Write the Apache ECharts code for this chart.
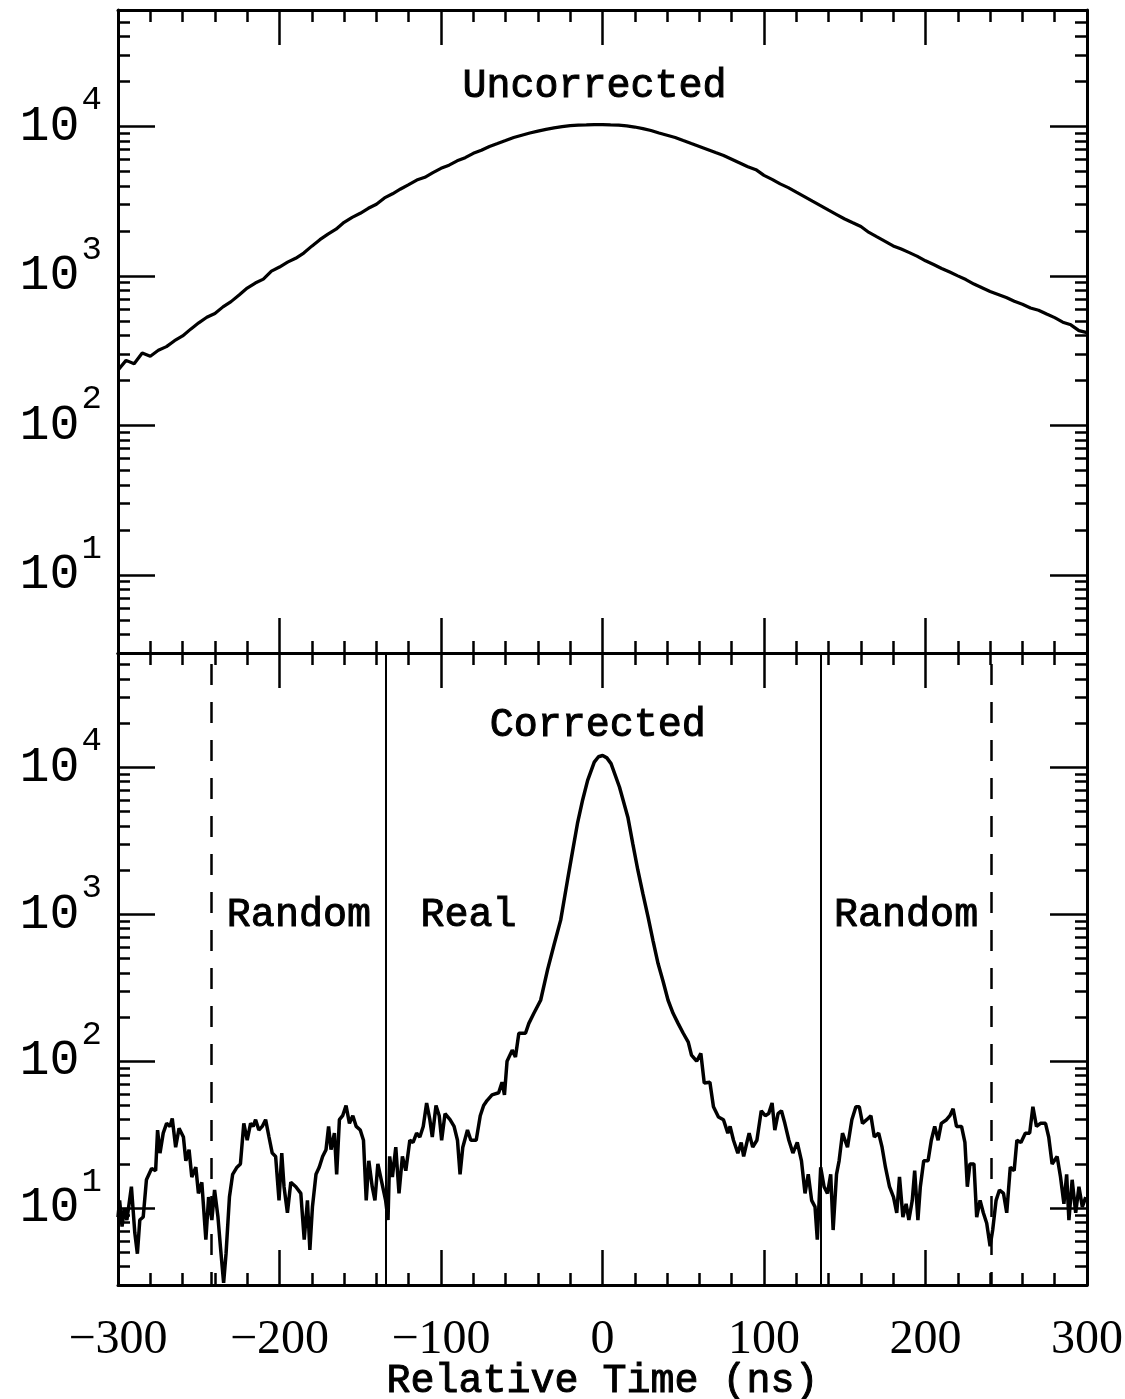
<!DOCTYPE html>
<html><head><meta charset="utf-8">
<script src="https://cdn.jsdelivr.net/npm/echarts@6/dist/echarts.min.js"></script>
<style>html,body{margin:0;padding:0;background:#fff}#c{width:1125px;height:1399px}</style>
</head><body><div id="c"></div>
<script>
// ---- Uncorrected spectrum (top panel) ----
const uncorrTime = [-300,-295,-290,-285,-280,-275,-270,-265,-260,-255,-250,-245,-240,-235,-230,-225,-220,-215,-210,-205,
 -200,-195,-190,-185,-180,-175,-170,-165,-160,-155,-150,-145,-140,-135,-130,-125,-120,-115,-110,-105,
 -100,-95,-90,-85,-80,-75,-70,-65,-60,-55,-50,-45,-40,-35,-30,-25,-20,-15,-10,-5,
 0,5,10,15,20,25,30,35,40,45,50,55,60,65,70,75,80,85,90,95,
 100,105,110,115,120,125,130,135,140,145,150,155,160,165,170,175,180,185,190,195,
 200,205,210,215,220,225,230,235,240,245,250,255,260,265,270,275,280,285,290,295,300];
const uncorrCounts = [234,272,258,305,290,318,336,368,396,440,485,528,560,620,672,745,828,895,950,1075,
 1145,1235,1310,1420,1580,1745,1900,2050,2280,2460,2620,2830,3010,3320,3540,3810,4070,4370,4560,4900,
 5240,5500,5880,6170,6600,6920,7330,7670,8030,8410,8710,9020,9290,9550,9770,9950,10120,10190,10230,10280,
 10280,10230,10190,10070,9890,9660,9380,9020,8710,8410,8030,7670,7330,7000,6680,6380,6030,5690,5370,5130,
 4700,4420,4120,3890,3630,3390,3160,2950,2750,2570,2400,2265,2140,1950,1820,1700,1585,1510,1430,1350,
 1260,1190,1120,1060,1000,944,881,832,785,750,716,676,646,610,589,556,525,490,470,430,417];

// ---- Corrected spectrum (bottom panel) ----
const corrTime = [-300.0,-299.0,-297.5,-296.0,-294.5,-291.7,-289.6,-288.0,-286.5,-284.4,-282.4,-279.2,-276.7,-275.5,-274.0,-272.0,-269.9,-267.8,-266.4,-264.3,
 -262.2,-259.5,-258.0,-256.0,-254.3,-251.8,-250.2,-248.1,-245.6,-243.9,-241.9,-240.2,-238.1,-236.6,-234.6,-233.1,-231.0,-229.0,-226.3,-224.2,
 -222.1,-220.0,-217.9,-216.3,-214.8,-212.8,-210.7,-208.6,-206.5,-204.5,-202.4,-200.3,-198.6,-197.2,-195.1,-193.0,-189.9,-186.8,-184.7,-182.7,
 -181.2,-179.6,-177.4,-175.4,-173.3,-171.2,-169.6,-168.1,-166.0,-164.6,-162.9,-160.9,-158.8,-156.7,-154.6,-152.5,-150.0,-148.0,-146.3,-144.7,
 -142.6,-140.9,-139.1,-137.0,-134.3,-132.8,-131.8,-130.1,-128.0,-126.0,-123.9,-121.8,-119.3,-117.3,-115.1,-113.1,-111.0,-108.9,-106.9,-105.4,
 -103.1,-101.1,-99.6,-97.5,-94.4,-91.9,-89.8,-88.2,-86.5,-83.6,-81.5,-78.2,-75.7,-73.6,-71.5,-68.4,-64.3,-62.2,-60.7,-59.1,
 -55.9,-53.9,-51.8,-47.7,-45.6,-42.5,-38.3,-34.0,-30.0,-25.9,-21.7,-18.5,-15.5,-12.3,-9.2,-5.1,-2.5,0.1,2.7,5.3,
 10.5,15.7,18.8,21.9,25.0,28.2,31.3,34.4,37.5,40.6,43.7,46.8,50.0,53.1,55.1,58.3,60.9,63.0,66.5,68.7,
 71.8,74.9,77.6,79.0,81.1,83.8,85.9,87.4,89.4,90.8,93.0,95.6,98.3,100.8,102.9,105.0,106.7,108.7,110.8,112.9,
 115.4,117.9,120.6,123.2,125.4,127.4,129.5,131.6,133.0,135.1,137.2,139.3,141.3,142.8,144.9,146.5,148.6,151.7,154.4,156.9,
 159.0,161.0,163.6,166.2,168.3,171.0,173.1,175.2,177.7,180.2,182.2,183.9,186.0,188.0,189.7,191.8,193.3,195.3,196.8,198.9,
 201.6,203.6,205.7,207.8,209.8,213.0,215.1,217.1,219.2,222.3,224.4,225.9,227.5,230.0,231.7,233.8,235.8,237.9,240.0,241.6,
 243.7,245.8,248.3,250.3,252.5,254.9,256.6,259.1,261.8,264.5,266.5,268.7,271.2,274.3,276.3,278.4,281.5,283.6,285.7,287.4,
 288.8,290.8,293.0,295.0,297.1,299.2];
const corrCounts = [8.7,11.3,7.5,10,8.3,14,6.8,4.9,8.3,8.7,15.6,18.6,18,34,23.7,32.4,37.8,36,40.8,26,
 35,30.5,21,25,16.3,19,12.6,15,6.1,11.9,8.3,13.3,8.7,5.5,3.1,4.9,11.9,17,19,20,
 37.8,29,37.8,36,40,34,36,40,30.5,23.7,22.5,11.3,23.7,14,9.3,15,14,12.6,6.1,11.3,
 5.2,10.2,17,19,22.5,25,36,25,32.4,17,40,42.6,50,37.8,42.6,36,34,29,11.3,21,
 14,11.3,20,15.6,11.3,8.3,22.5,16.3,26,12.6,22.5,18,29,28,32.4,30.5,36,52,40,30.5,
 50,42.6,29,44,40,36,29,17,26,34,29,29,42.6,50,54,59,61,72,59,100,
 119,107,155,155,181,212,260,420,620,912,1700,2700,4150,6000,8150,10860,11800,12040,11600,10600,
 7350,4580,3000,1995,1380,960,660,462,350,260,212,181,155,135,110,100,113,71,72,49,
 41.7,40,32.4,36,29,23.7,28,22.5,28,32.4,26,29,46,42.6,44,52,34,44,46,37.8,
 29,23.7,28,21,12.6,17,11.3,10.2,6.1,19,14,12.6,17,7.1,17,21,32.4,26,40,49,
 49,37.8,40,42.6,30.5,32.4,26,19,14,11.9,9.3,16.3,8.7,10.7,8.3,11.3,18,8.3,14,21,
 21,29,36,29,37.8,40,42.6,47.5,36,36,28,14,20,20,8.7,11.3,9.3,7.9,5.5,7.1,
 11.3,13.3,12.6,9.3,19,18,29,28,32.4,32.4,49,36,37.8,37.8,30.5,20,22.5,16.3,10.7,17,
 8.3,15.6,9.3,14,10.2,11.9];

// ---- Axis ranges / ticks ----
const timeRange = [-300, 300];
const timeTickStep = 100;
const countRange = [3, 60000];
// ---- Coincidence windows (ns) ----
const realWindow = [-134, 135];
const randomWindow = [-242, 241];
// ---- Annotation texts ----
const panelTitles = ['Uncorrected', 'Corrected'];
const regionNames = ['Random', 'Real', 'Random'];
const xTitle = 'Relative Time (ns)';

const zip = (xs, ys) => xs.map((x, i) => [x, ys[i]]);
const MONO = 'Liberation Mono';
const black = '#000';

function yLabel(v) {
  const l = Math.log10(v), e = Math.round(l);
  if (Math.abs(l - e) > 1e-6) return '';
  return '{b|10}{s|' + e + '}';
}
const yRich = {
  b: { fontFamily: MONO, fontSize: 50, color: black, padding: [18, 0, 18, 0] },
  s: { fontFamily: MONO, fontSize: 34, color: black, verticalAlign: 'top', padding: [0, 0, 0, 2] }
};

function xAxisDef(grid, pos, labels) {
  return {
    type: 'value', gridIndex: grid, position: pos, min: timeRange[0], max: timeRange[1], interval: timeTickStep,
    axisLine: { show: true, onZero: false, lineStyle: { color: black, width: 3 } },
    axisTick: { show: true, inside: true, length: 35, lineStyle: { color: black, width: 2.5 } },
    minorTick: { show: true, splitNumber: 5, length: 12, lineStyle: { color: black, width: 2.5 } },
    splitLine: { show: false },
    axisLabel: labels ? { show: true, margin: 31, fontFamily: 'Liberation Serif', fontSize: 48, color: black,
      formatter: v => (v < 0 ? '\u2212' + (-v) : String(v)) } : { show: false },
    name: labels ? xTitle : '', nameLocation: 'middle', nameGap: 76, nameMoveOverlap: false,
    nameTextStyle: { fontFamily: MONO, fontSize: 40, color: black, textBorderColor: black, textBorderWidth: 1 }
  };
}
function yAxisDef(grid, pos, labels) {
  return {
    type: 'log', logBase: 10, gridIndex: grid, position: pos, min: countRange[0], max: countRange[1],
    axisLine: { show: true, onZero: false, lineStyle: { color: black, width: 3 } },
    axisTick: { show: true, inside: true, length: 37, lineStyle: { color: black, width: 2.5 } },
    minorTick: { show: true, splitNumber: 9, length: 12, lineStyle: { color: black, width: 2.5 } },
    splitLine: { show: false }, minorSplitLine: { show: false },
    axisLabel: labels ? { show: true, margin: 16, formatter: yLabel, rich: yRich } : { show: false }
  };
}

const textLabel = { show: true, fontFamily: MONO, fontSize: 40, color: black, textBorderColor: black, textBorderWidth: 1 };

const option = {
  animation: false,
  backgroundColor: '#fff',
  grid: [
    { left: 118, right: 38, top: 10, height: 643, outerBoundsMode: 'none', containLabel: false },
    { left: 118, right: 38, top: 653, height: 632, outerBoundsMode: 'none', containLabel: false }
  ],
  xAxis: [xAxisDef(0, 'bottom', false), xAxisDef(0, 'top', false), xAxisDef(1, 'bottom', true), xAxisDef(1, 'top', false)],
  yAxis: [yAxisDef(0, 'left', true), yAxisDef(0, 'right', false), yAxisDef(1, 'left', true), yAxisDef(1, 'right', false)],
  series: [
    {
      type: 'line', xAxisIndex: 0, yAxisIndex: 0, data: zip(uncorrTime, uncorrCounts),
      symbol: 'none', lineStyle: { color: black, width: 3.2 },
      markPoint: { symbol: 'circle', symbolSize: 0, silent: true,
        label: Object.assign({ position: 'inside' }, textLabel),
        data: [{ coord: [-5, 18600], value: panelTitles[0], label: { formatter: panelTitles[0] } }] }
    },
    {
      type: 'line', xAxisIndex: 2, yAxisIndex: 2, data: zip(corrTime, corrCounts),
      symbol: 'none', lineStyle: { color: black, width: 3.5 },
      markLine: { silent: true, symbol: 'none', label: { show: false },
        data: [
          { xAxis: realWindow[0], lineStyle: { color: black, width: 2, type: 'solid' } },
          { xAxis: realWindow[1], lineStyle: { color: black, width: 2, type: 'solid' } },
          { xAxis: randomWindow[0], lineStyle: { color: black, width: 2.5, type: [21, 17], dashOffset: 8 } },
          { xAxis: randomWindow[1], lineStyle: { color: black, width: 2.5, type: [21, 17], dashOffset: 8 } }
        ] },
      markPoint: { symbol: 'circle', symbolSize: 0, silent: true,
        label: Object.assign({ position: 'inside' }, textLabel),
        data: [
          { coord: [-3, 19400], label: { formatter: panelTitles[1] } },
          { coord: [-188, 980], label: { formatter: regionNames[0] } },
          { coord: [-83, 980], label: { formatter: regionNames[1] } },
          { coord: [188, 980], label: { formatter: regionNames[2] } }
        ] }
    }
  ]
};
const chart = echarts.init(document.getElementById('c'), null, { renderer: 'canvas' });
chart.setOption(option);
</script></body></html>
